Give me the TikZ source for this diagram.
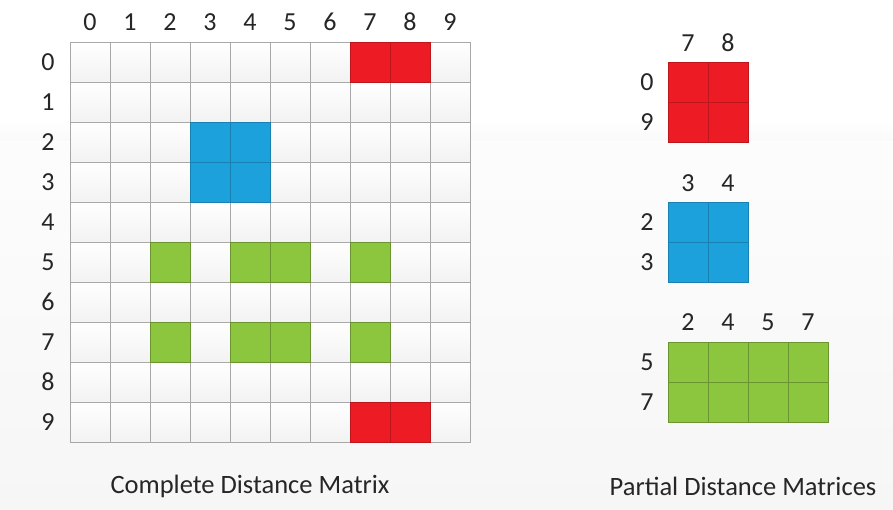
\documentclass[tikz,border=0pt]{standalone}
\usepackage{fontspec}
\setmainfont{Carlito}
\definecolor{cred}{HTML}{ED1C24}
\definecolor{cblue}{HTML}{1DA1DD}
\definecolor{cgreen}{HTML}{8CC63F}
\definecolor{gline}{HTML}{A8A8A8}
\begin{document}
\begin{tikzpicture}[x=1pt,y=-1pt,
  lbl/.style={font=\fontsize{26}{30}\selectfont, text=black!85, inner sep=0pt},
  captext/.style={font=\fontsize{26.5}{30}\selectfont, text=black!85, inner sep=0pt},
  wcell/.style={top color=white, bottom color=gray!10, draw=gline, line width=0.7pt},
  redcell/.style={fill=cred, draw=cred!80!black, line width=0.7pt},
  bluecell/.style={fill=cblue, draw=cblue!80!black, line width=0.7pt},
  greencell/.style={fill=cgreen, draw=cgreen!75!black, line width=0.7pt}]
\useasboundingbox (0,0) rectangle (893,509);
\shade[top color=white, bottom color=gray!7] (0,0) rectangle (893,509);
\fill[white] (0,0) rectangle (893,120);
\shade[top color=white, bottom color=gray!4] (0,120) rectangle (893,140);
% complete matrix
\foreach \r in {0,...,9}{
  \foreach \c in {0,...,9}{
    \path[wcell] (70+\c*40, 42+\r*40) rectangle ++(40,40);
  }
}
\foreach \r/\c in {0/7,0/8,9/7,9/8}{\path[redcell] (70+\c*40, 42+\r*40) rectangle ++(40,40);}
\foreach \r/\c in {2/3,2/4,3/3,3/4}{\path[bluecell] (70+\c*40, 42+\r*40) rectangle ++(40,40);}
\foreach \r/\c in {5/2,5/4,5/5,5/7,7/2,7/4,7/5,7/7}{\path[greencell] (70+\c*40, 42+\r*40) rectangle ++(40,40);}
\foreach \i in {0,...,9}{
  \node[lbl] (col\i) at (90+\i*40, 22) {\i};
  \node[lbl] (row\i) at (48, 62+\i*40) {\i};
}
\node[captext] (capA) at (250, 486) {Complete Distance Matrix};
% partial red
\foreach \r in {0,1}{\foreach \c in {0,1}{\path[redcell] (668+\c*40, 62+\r*40) rectangle ++(40,40);}}
\node[lbl] (r7) at (688,43) {7};
\node[lbl] (r8) at (728,43) {8};
\node[lbl] (r0) at (647,82) {0};
\node[lbl] (r9) at (647,122) {9};
% partial blue
\foreach \r in {0,1}{\foreach \c in {0,1}{\path[bluecell] (668+\c*40, 202+\r*40) rectangle ++(40,40);}}
\node[lbl] (b3) at (688,183) {3};
\node[lbl] (b4) at (728,183) {4};
\node[lbl] (b2r) at (647,222) {2};
\node[lbl] (b3r) at (647,262) {3};
% partial green
\foreach \r in {0,1}{\foreach \c in {0,...,3}{\path[greencell] (668+\c*40, 342+\r*40) rectangle ++(40,40);}}
\node[lbl] (g2) at (688,322) {2};
\node[lbl] (g4) at (728,322) {4};
\node[lbl] (g5) at (768,322) {5};
\node[lbl] (g7) at (808,322) {7};
\node[lbl] (g5r) at (647,362) {5};
\node[lbl] (g7r) at (647,402) {7};
\node[captext] (capB) at (743, 486) {Partial Distance Matrices};
\end{tikzpicture}
\end{document}
